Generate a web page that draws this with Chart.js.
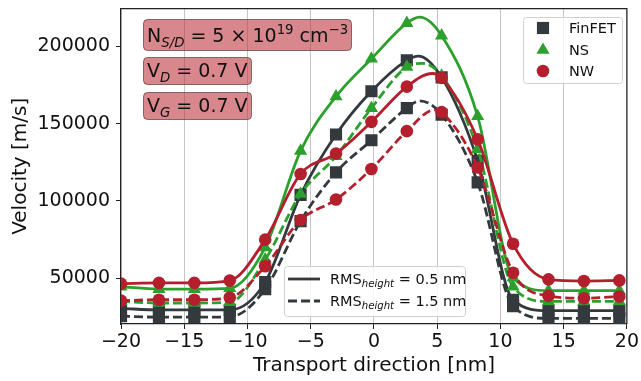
<!DOCTYPE html>
<html>
<head>
<meta charset="utf-8">
<script src="https://cdn.jsdelivr.net/npm/chart.js@4/dist/chart.umd.min.js"></script>
<style>
  html, body { margin: 0; padding: 0; background: #fff; }
  #wrap { width: 641px; height: 381px; }
</style>
</head>
<body>
<div id="wrap"><canvas id="velocityChart" width="641" height="381"></canvas></div>
<script>
// positions along the transport direction (nm)
const xPos = [-20, -17.0, -14.2, -11.4, -8.6, -5.8, -3.0, -0.2, 2.6, 5.35, 8.2, 11.0, 13.8, 16.6, 19.4];

// velocity [m/s], RMS_height = 0.5 nm (solid) and 1.5 nm (dashed)
const finfetSolid  = [30500, 29500, 29500, 29500, 47500, 104000, 143000, 171000, 191000, 180000, 126000, 36000, 29000, 29000, 29000];
const finfetDashed = [25500, 24800, 24800, 25000, 43000, 87000, 118500, 139300, 160100, 155900, 112000, 32000, 24000, 24000, 24000];
const nsSolid      = [44500, 43000, 43000, 43500, 70000, 132400, 167600, 192000, 215100, 207000, 154800, 50500, 42000, 42000, 42000];
const nsDashed     = [35000, 34000, 34000, 34500, 62000, 104500, 129000, 160100, 186800, 181000, 133500, 44500, 35000, 35000, 35000];
const nwSolid      = [46500, 47000, 47000, 48500, 75000, 117500, 130700, 151200, 174000, 179700, 139900, 72300, 49300, 48200, 48600];
const nwDashed     = [35500, 36100, 36100, 37500, 57800, 87700, 101000, 120700, 145200, 157500, 121700, 53600, 38600, 37100, 38200];

// curve maxima between markers, same series order as above
const peakPos = [3.5, 3.6, 3.6, 3.8, 4.6, 4.8];
const peakVel = [193800, 164800, 219000, 189000, 182500, 159000];

const deviceNames = ['FinFET', 'NS', 'NW'];
const rmsLabels = ['0.5', '1.5'];
const xTicks = [-20, -15, -10, -5, 0, 5, 10, 15, 20];
const yTicks = [50000, 100000, 150000, 200000];

const FONT = '"DejaVu Sans", sans-serif';
const colors = { FinFET: '#33393c', NS: '#2ca02c', NW: '#b31f2d' };
const markers = { FinFET: ['rect', 8.6], NS: ['triangle', 7.6], NW: ['circle', 6.3] };

function makeSet(name, values, dashed, k) {
    const pts = values.map((v, i) => ({ x: xPos[i], y: v }));
    pts.push({ x: peakPos[k], y: peakVel[k], peak: true });
    pts.sort((a, b) => a.x - b.x);
    return {
        label: name + (dashed ? ' 1.5' : ' 0.5'),
        data: pts,
        borderColor: colors[name],
        backgroundColor: colors[name],
        borderWidth: 2.8,
        borderDash: dashed ? [9, 4] : [],
        pointStyle: markers[name][0],
        pointRadius: c => (c.raw && c.raw.peak ? 0 : markers[name][1]),
        pointBorderWidth: 0,
        cubicInterpolationMode: 'monotone'
    };
}

// draw a line of text with sub/superscripts
function drawRich(ctx, parts, x, y, size) {
    let cx = x;
    ctx.textBaseline = 'alphabetic';
    ctx.textAlign = 'left';
    parts.forEach(p => {
        const s = (p.sub || p.sup) ? size * 0.7 : size;
        ctx.font = (p.it ? 'italic ' : '') + s + 'px ' + FONT;
        const dy = p.sub ? size * 0.24 : (p.sup ? -size * 0.4 : 0);
        ctx.fillText(p.t, cx, y + dy);
        cx += ctx.measureText(p.t).width;
    });
    return cx - x;
}

function roundBox(ctx, x, y, w, h, r, fill, stroke) {
    ctx.beginPath();
    ctx.roundRect(x, y, w, h, r);
    ctx.fillStyle = fill;
    ctx.fill();
    ctx.strokeStyle = stroke;
    ctx.lineWidth = 1;
    ctx.stroke();
}

const annotations = [
    { box: [143, 19, 208, 31], base: 42, parts: [
        { t: 'N' }, { t: 'S/D', sub: true, it: true }, { t: ' = 5 × 10' }, { t: '19', sup: true },
        { t: ' cm' }, { t: '−3', sup: true }] },
    { box: [143, 57, 108, 27], base: 77, parts: [{ t: 'V' }, { t: 'D', sub: true, it: true }, { t: ' = 0.7 V' }] },
    { box: [143, 92, 108, 27], base: 112, parts: [{ t: 'V' }, { t: 'G', sub: true, it: true }, { t: ' = 0.7 V' }] }
];

const extrasPlugin = {
    id: 'extras',
    afterDatasetsDraw(chart) {
        const { ctx, chartArea: a } = chart;
        ctx.save();
        ctx.strokeStyle = '#222';
        ctx.lineWidth = 1.2;
        ctx.beginPath();
        ctx.moveTo(a.left, a.top);
        ctx.lineTo(a.right, a.top);
        ctx.lineTo(a.right, a.bottom);
        ctx.stroke();
        ctx.restore();
    },
    afterDraw(chart) {
        const ctx = chart.ctx;
        ctx.save();

        // parameter boxes
        annotations.forEach(an => {
            const [bx, by, bw, bh] = an.box;
            roundBox(ctx, bx + 0.5, by + 0.5, bw, bh, 4, 'rgba(190, 55, 65, 0.6)', 'rgba(90, 60, 60, 0.7)');
            ctx.fillStyle = '#111';
            drawRich(ctx, an.parts, bx + 4, an.base, 19);
        });

        // device legend (markers)
        roundBox(ctx, 523.5, 17.5, 99, 66, 3, 'rgba(255,255,255,0.8)', '#d0d0d0');
        const rows = [28, 50, 71];
        deviceNames.forEach((name, i) => {
            ctx.fillStyle = colors[name];
            ctx.strokeStyle = colors[name];
            Chart.helpers.drawPoint(ctx, { pointStyle: markers[name][0], radius: markers[name][1], borderWidth: 0 }, 543, rows[i]);
            ctx.fillStyle = '#111';
            ctx.font = '14.5px ' + FONT;
            ctx.textBaseline = 'middle';
            ctx.textAlign = 'left';
            ctx.fillText(name, 569, rows[i] + 1);
        });

        // roughness legend (line styles)
        roundBox(ctx, 284.5, 266.5, 181, 50, 3, 'rgba(255,255,255,0.8)', '#d0d0d0');
        const lrows = [279, 301];
        rmsLabels.forEach((lab, i) => {
            ctx.strokeStyle = colors.FinFET;
            ctx.lineWidth = 2.8;
            ctx.setLineDash(i === 0 ? [] : [9, 4]);
            ctx.beginPath();
            ctx.moveTo(288, lrows[i]);
            ctx.lineTo(320, lrows[i]);
            ctx.stroke();
            ctx.setLineDash([]);
            ctx.fillStyle = '#111';
            drawRich(ctx, [{ t: 'RMS' }, { t: 'height', sub: true, it: true }, { t: ' = ' + lab + ' nm' }], 330, lrows[i] + 5, 14.5);
        });

        ctx.restore();
    }
};

const ctx = document.getElementById('velocityChart').getContext('2d');
new Chart(ctx, {
    type: 'line',
    data: {
        datasets: [
            makeSet('NW', nwSolid, false, 4),
            makeSet('NW', nwDashed, true, 5),
            makeSet('NS', nsSolid, false, 2),
            makeSet('NS', nsDashed, true, 3),
            makeSet('FinFET', finfetSolid, false, 0),
            makeSet('FinFET', finfetDashed, true, 1)
        ]
    },
    options: {
        responsive: false,
        animation: false,
        devicePixelRatio: 1,
        layout: { padding: { left: 0, right: 13, top: 6, bottom: 0 } },
        plugins: { legend: { display: false }, tooltip: { enabled: false } },
        scales: {
            x: {
                type: 'linear',
                min: -20,
                max: 20,
                afterBuildTicks: s => { s.ticks = xTicks.map(v => ({ value: v })); },
                afterFit: s => { s.height = 57; },
                ticks: {
                    color: '#111',
                    font: { family: FONT, size: 19 },
                    padding: 2,
                    maxRotation: 0,
                    callback: v => (v < 0 ? '\u2212' + Math.abs(v) : String(v))
                },
                grid: { color: '#c4c4c4', lineWidth: 1, tickLength: 5, tickColor: '#222' },
                border: { color: '#222', width: 1.2 },
                title: {
                    display: true,
                    text: 'Transport direction [nm]',
                    color: '#111',
                    font: { family: FONT, size: 20 },
                    padding: { top: 0, bottom: 3 }
                }
            },
            y: {
                min: 20400,
                max: 224500,
                afterBuildTicks: s => { s.ticks = yTicks.map(v => ({ value: v })); },
                afterFit: s => { s.width = 121; s.paddingTop = 0; s.paddingBottom = 0; },
                ticks: {
                    color: '#111',
                    font: { family: FONT, size: 19 },
                    padding: 6,
                    callback: v => String(v)
                },
                grid: { drawOnChartArea: false, tickLength: 5, tickColor: '#222' },
                border: { color: '#222', width: 1.2 },
                title: {
                    display: true,
                    text: 'Velocity [m/s]',
                    color: '#111',
                    font: { family: FONT, size: 20 },
                    padding: { top: 9, bottom: 0 }
                }
            }
        }
    },
    plugins: [extrasPlugin]
});
</script>
</body>
</html>
